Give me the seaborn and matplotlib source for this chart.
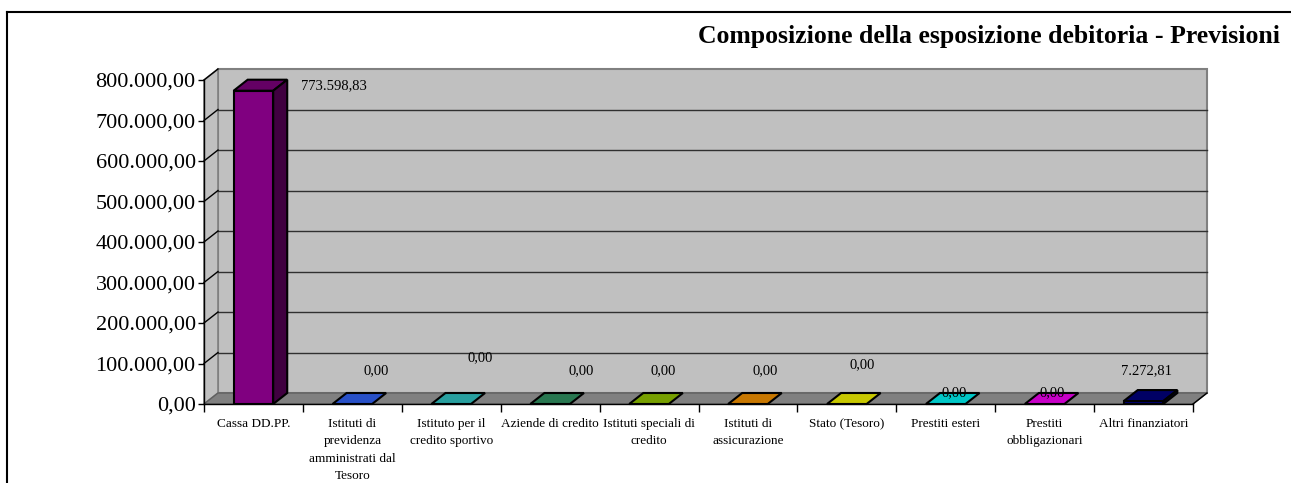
import matplotlib
matplotlib.use('Agg')
import matplotlib.pyplot as plt
import matplotlib.transforms as mtransforms
from matplotlib.patches import Polygon
from matplotlib.colors import to_rgb
import seaborn as sns

categories = [
    'Cassa DD.PP.',
    'Istituti di\nprevidenza\namministrati dal\nTesoro',
    'Istituto per il\ncredito sportivo',
    'Aziende di credito',
    'Istituti speciali di\ncredito',
    'Istituti di\nassicurazione',
    'Stato (Tesoro)',
    'Prestiti esteri',
    'Prestiti\nobbligazionari',
    'Altri finanziatori',
]
values = [773598.83, 0, 0, 0, 0, 0, 0, 0, 0, 7272.81]
colors = ['#800080', '#3366FF', '#33CCCC', '#339966', '#99CC00',
          '#FF9900', '#FFFF00', '#00FFFF', '#FF00FF', '#000080']
yticks = [0, 100000, 200000, 300000, 400000, 500000, 600000, 700000, 800000]

# where Excel dropped the value labels (pixels relative to bar top / centre)
label_dx = [80, 24, 29, 31, 14, 17, 15, 8, 8, 3]
label_dy = [5, 33, 46, 33, 33, 33, 39, 11, 11, 30]

title = 'Composizione della esposizione debitoria - Previsioni'


def it_num(v, _=None):
    s = f'{v:,.2f}'
    return s.replace(',', 'X').replace('.', ',').replace('X', '.')


def shade(c, f):
    r, g, b = to_rgb(c)
    return (r * f, g * f, b * f)


W, H = 1291, 483
fig = plt.figure(figsize=(W / 100, H / 100), dpi=100, facecolor='white')
plt.rcParams['font.family'] = ['Liberation Serif', 'DejaVu Serif']

left, right, top, bottom = 204, 1193, 80, 404
ax = fig.add_axes([left / W, 1 - bottom / H, (right - left) / W, (bottom - top) / H])
ax.set_xlim(-0.5, 9.5)
ax.set_ylim(0, 800000)
ax.set_facecolor('none')

# depth of the fake 3d box, in data units
DX = 14 / ((right - left) / 10)
DY = 11 * 800000 / (bottom - top)

x0, x1 = -0.5, 9.5
gcol = '#303030'
# back wall
ax.add_patch(Polygon([(x0 + DX, DY), (x1 + DX, DY), (x1 + DX, 800000 + DY), (x0 + DX, 800000 + DY)],
                     closed=True, facecolor='#C0C0C0', edgecolor='#808080', lw=1.5, zorder=0, clip_on=False))
# side wall
ax.add_patch(Polygon([(x0, 0), (x0 + DX, DY), (x0 + DX, 800000 + DY), (x0, 800000)],
                     closed=True, facecolor='#C0C0C0', edgecolor='#808080', lw=1.2, zorder=0, clip_on=False))
# floor
ax.add_patch(Polygon([(x0, 0), (x1, 0), (x1 + DX, DY), (x0 + DX, DY)],
                     closed=True, facecolor='#808080', edgecolor='#606060', lw=1, zorder=0.5, clip_on=False))
for yv in yticks[1:-1]:
    ax.plot([x0 + DX, x1 + DX], [yv + DY, yv + DY], color=gcol, lw=1, zorder=0.6, clip_on=False)
for yv in yticks[1:]:
    ax.plot([x0, x0 + DX], [yv, yv + DY], color='black', lw=1, zorder=0.6, clip_on=False)
ax.plot([x1, x1 + DX], [0, DY], color='black', lw=1, zorder=0.6, clip_on=False)

sns.barplot(x=list(range(len(values))), y=values, hue=list(range(len(values))),
            palette=colors, saturation=1, width=0.4, edgecolor='black', linewidth=1.5,
            legend=False, ax=ax, zorder=2)

bars = [b for cont in ax.containers for b in cont]
for p, c in zip(bars, colors):
    bx, bw, bh = p.get_x(), p.get_width(), p.get_height()
    ax.add_patch(Polygon([(bx, bh), (bx + bw, bh), (bx + bw + DX, bh + DY), (bx + DX, bh + DY)],
                         closed=True, facecolor=shade(c, 0.78), edgecolor='black', lw=1.5,
                         zorder=2.5, clip_on=False))
    if bh > 0:
        ax.add_patch(Polygon([(bx + bw, 0), (bx + bw + DX, DY), (bx + bw + DX, bh + DY), (bx + bw, bh)],
                             closed=True, facecolor=shade(c, 0.5), edgecolor='black', lw=1.5,
                             zorder=2.5, clip_on=False))

for i, v in enumerate(values):
    tr = mtransforms.offset_copy(ax.transData, fig=fig, x=label_dx[i], y=label_dy[i], units='dots')
    ax.text(i, v, it_num(v), transform=tr, ha='center', va='center', fontsize=10.5,
            color='black', zorder=5, clip_on=False)

ax.set_yticks(yticks)
ax.yaxis.set_major_formatter(plt.FuncFormatter(it_num))
ax.tick_params(axis='y', direction='out', length=4, width=1, pad=2, labelsize=16)
ax.set_xticks(range(len(categories)))
ax.set_xticklabels(categories, fontsize=9.5, linespacing=1.6)
ax.tick_params(axis='x', which='major', length=0, pad=10)
ax.set_xticks([i - 0.5 for i in range(len(categories) + 1)], minor=True)
ax.tick_params(axis='x', which='minor', direction='out', length=6, width=1)
ax.set_xlabel('')
ax.set_ylabel('')
for s in ['top', 'right']:
    ax.spines[s].set_visible(False)
for s in ['left', 'bottom']:
    ax.spines[s].set_color('black')
    ax.spines[s].set_linewidth(1)
    ax.spines[s].set_zorder(3)

fig.text(1280 / W, 1 - 36 / H, title, ha='right', va='center', fontsize=18.5, fontweight='bold')

# chart area border
fig.add_artist(plt.Line2D([7 / W, 7 / W], [0, 1 - 12 / H], color='black', lw=1.5))
fig.add_artist(plt.Line2D([7 / W, 1], [1 - 12 / H, 1 - 12 / H], color='black', lw=1.5))

fig.savefig('out.png', dpi=100, facecolor='white')
